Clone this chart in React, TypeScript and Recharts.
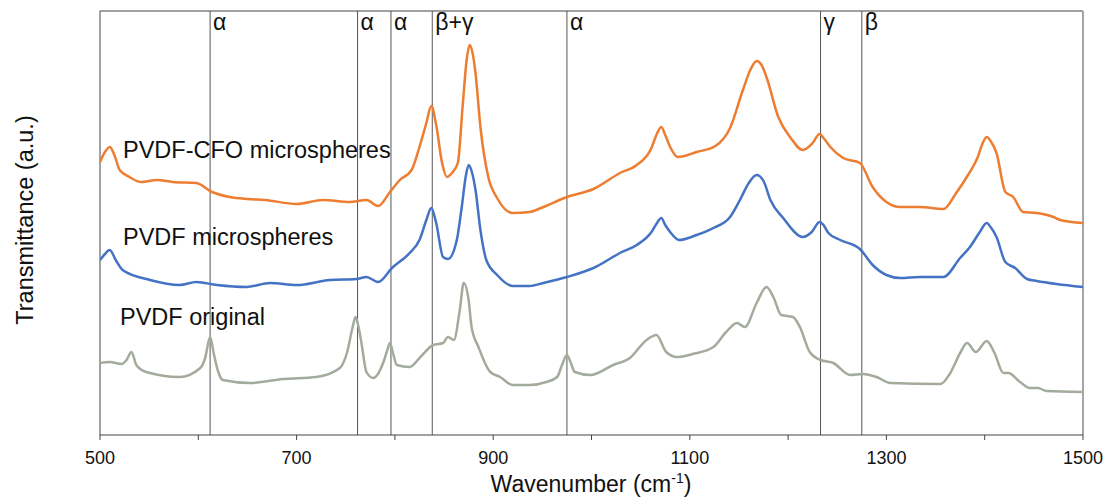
import { LineChart, Line, XAxis, YAxis, ReferenceLine } from "recharts";

// values are in arbitrary transmittance units (0 = bottom of frame)
const cfoWave = [500, 505, 510, 515, 520, 530, 542, 558, 574, 598, 614, 632, 650, 668, 700, 727, 754, 771, 783, 795, 805, 817, 825, 832, 837, 842, 848, 853, 858, 864, 869, 873, 876, 879, 882, 887, 895, 904, 920, 937, 951, 975, 1002, 1029, 1046, 1061, 1066, 1071, 1075, 1080, 1088, 1107, 1126, 1141, 1154, 1162, 1168, 1173, 1178, 1190, 1202, 1215, 1225, 1232, 1236, 1243, 1256, 1273, 1286, 1300, 1314, 1334, 1358, 1371, 1383, 1393, 1398, 1402, 1406, 1412, 1421, 1429, 1439, 1453, 1470, 1477, 1500];
const cfoVals = [273, 283, 288, 279, 265, 258, 253, 255, 253, 252, 243, 238, 236, 235, 231, 235, 233, 235, 229, 243, 255, 265, 288, 312, 329, 310, 272, 258, 262, 272, 330, 375, 390, 382, 362, 308, 258, 237, 222, 223, 228, 238, 246, 262, 270, 287, 300, 308, 300, 288, 278, 283, 289, 307, 345, 366, 374, 370, 358, 318, 298, 285, 292, 301, 297, 288, 277, 272, 248, 233, 228, 228, 226, 242, 260, 278, 292, 298, 294, 282, 243, 238, 223, 222, 218, 215, 212];

const msWave = [500, 505, 510, 516, 523, 551, 581, 598, 619, 649, 673, 700, 734, 761, 771, 783, 797, 815, 825, 832, 837, 842, 849, 854, 863, 868, 872, 875, 878, 882, 887, 893, 904, 920, 937, 951, 975, 1002, 1029, 1046, 1061, 1066, 1071, 1075, 1080, 1089, 1107, 1124, 1141, 1151, 1160, 1168, 1175, 1182, 1195, 1215, 1224, 1232, 1236, 1241, 1253, 1273, 1286, 1300, 1314, 1334, 1358, 1375, 1385, 1395, 1402, 1406, 1412, 1421, 1431, 1443, 1453, 1473, 1500];
const msVals = [175, 181, 185, 175, 165, 155, 150, 153, 150, 148, 152, 150, 155, 156, 158, 153, 167, 182, 195, 215, 227, 212, 178, 176, 195, 228, 258, 270, 264, 245, 205, 175, 160, 149, 149, 152, 158, 167, 182, 190, 203, 211, 217, 210, 203, 195, 200, 207, 218, 235, 252, 260, 254, 235, 217, 198, 203, 213, 210, 202, 195, 186, 170, 160, 157, 158, 158, 177, 188, 203, 212, 208, 198, 173, 167, 156, 154, 151, 148];

const origWave = [500, 510, 522, 527, 532, 537, 547, 581, 602, 607, 612, 616, 620, 625, 653, 686, 720, 744, 752, 757, 760, 763, 766, 771, 778, 788, 792, 795, 798, 802, 815, 826, 839, 849, 854, 860, 866, 870, 875, 878, 885, 897, 907, 920, 937, 954, 965, 970, 975, 979, 983, 999, 1022, 1039, 1056, 1066, 1076, 1087, 1103, 1124, 1137, 1148, 1156, 1168, 1178, 1185, 1193, 1205, 1212, 1222, 1233, 1246, 1263, 1276, 1290, 1304, 1355, 1365, 1375, 1382, 1391, 1402, 1410, 1419, 1424, 1436, 1446, 1454, 1463, 1500];
const origVals = [72, 73, 71, 75, 83, 70, 63, 58, 67, 77, 98, 80, 64, 55, 52, 56, 58, 67, 85, 108, 118, 108, 92, 63, 57, 72, 84, 92, 82, 70, 68, 78, 90, 92, 98, 95, 125, 152, 135, 108, 88, 63, 58, 50, 50, 53, 58, 70, 80, 72, 63, 60, 70, 77, 95, 100, 83, 78, 81, 88, 103, 112, 108, 132, 148, 138, 120, 118, 108, 83, 75, 72, 60, 61, 58, 52, 51, 62, 82, 92, 83, 94, 82, 62, 62, 53, 47, 47, 44, 43];

const phaseLines = [612, 762, 796, 838, 975, 1233, 1275];
const phaseNames = ["α", "α", "α", "β+γ", "α", "γ", "β"];
const xTicks = [500, 600, 700, 800, 900, 1000, 1100, 1200, 1300, 1400, 1500];
const seriesNames = ["PVDF-CFO microspheres", "PVDF microspheres", "PVDF original"];

const zip = (w: number[], v: number[]) => w.map((x, i) => ({ w: x, t: v[i] }));

const FONT = "Arial, 'Liberation Sans', Helvetica, sans-serif";

const XTick = ({ x, y, payload }: any) => {
  if ((payload.value - 500) % 200 !== 0) return <g />;
  return (
    <text x={x} y={y + 22} textAnchor="middle" fontSize={18} fontFamily={FONT} fill="#111">
      {payload.value}
    </text>
  );
};

export default function App() {
  return (
    <div style={{ position: "absolute", left: 0, top: 0, width: 1108, height: 497, background: "#fff" }}>
      <LineChart width={1108} height={497} margin={{ top: 11, right: 25, left: 100, bottom: 32 }}>
        <XAxis
          dataKey="w"
          type="number"
          domain={[500, 1500]}
          ticks={xTicks}
          tick={<XTick />}
          tickSize={5}
          height={30}
          stroke="#444"
          allowDataOverflow
        />
        <YAxis type="number" domain={[0, 424]} hide allowDataOverflow />
        <ReferenceLine y={424} stroke="#444" />
        <ReferenceLine x={500} stroke="#444" />
        <ReferenceLine x={1500} stroke="#a6a6a6" strokeWidth={2} />
        {phaseLines.map((p, i) => (
          <ReferenceLine
            key={p}
            x={p}
            stroke="#555"
            label={{ value: phaseNames[i], position: "insideTopLeft", offset: 3, fontSize: 23, fill: "#111", fontFamily: FONT }}
          />
        ))}
        <Line data={zip(origWave, origVals)} dataKey="t" type="monotone" stroke="#a3ab9c" strokeWidth={2.5} dot={false} isAnimationActive={false} />
        <Line data={zip(msWave, msVals)} dataKey="t" type="monotone" stroke="#4472c4" strokeWidth={2.5} dot={false} isAnimationActive={false} />
        <Line data={zip(cfoWave, cfoVals)} dataKey="t" type="monotone" stroke="#ed7d31" strokeWidth={2.5} dot={false} isAnimationActive={false} />
      </LineChart>
      <svg width={1108} height={497} style={{ position: "absolute", left: 0, top: 0, pointerEvents: "none" }} fontFamily={FONT} fill="#111">
        <text x={123} y={158} fontSize={23.5}>{seriesNames[0]}</text>
        <text x={123} y={245} fontSize={23.5}>{seriesNames[1]}</text>
        <text x={120} y={325} fontSize={23.5}>{seriesNames[2]}</text>
        <text x={33} y={220} fontSize={23.5} textAnchor="middle" transform="rotate(-90 33 220)">
          Transmittance (a.u.)
        </text>
        <text x={591} y={492} fontSize={23} textAnchor="middle">
          Wavenumber (cm
          <tspan fontSize={14} dy={-9}>-1</tspan>
          <tspan dy={9}>)</tspan>
        </text>
      </svg>
    </div>
  );
}
